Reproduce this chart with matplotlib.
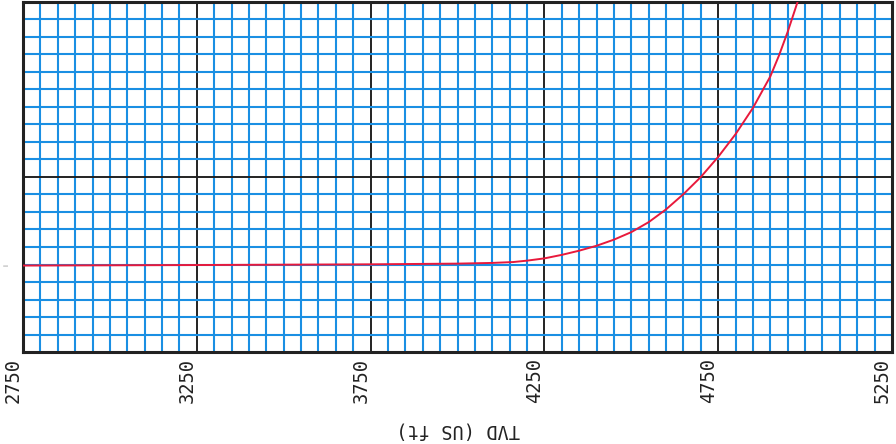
import numpy as np
import matplotlib.pyplot as plt

# red curve (y in grid squares from bottom)
tvd = [2750, 3250, 3750, 4000, 4100, 4160, 4200, 4250, 4300, 4350, 4400, 4450, 4500,
       4550, 4600, 4650, 4700, 4750, 4800, 4850, 4900, 4925, 4950, 4970, 4988]
val = [4.94, 4.97, 5.01, 5.05, 5.09, 5.14, 5.22, 5.35, 5.55, 5.79, 6.07, 6.42, 6.85,
       7.42, 8.15, 9.02, 10.0, 11.15, 12.45, 13.95, 15.75, 16.95, 18.3, 19.5, 20.6]

xticks = [2750, 3250, 3750, 4250, 4750, 5250]
xlabel = "TVD (US ft)"

blue = '#1a8fe3'
ink = '#222222'

fig = plt.figure(figsize=(8.96, 4.44), dpi=100)
ax = fig.add_axes([23/896, 1 - 352/444, (892-23)/896, (352-2)/444])

ax.plot(tvd, val, color='#e8193c', lw=1.4, zorder=3)

ax.set_xlim(2750, 5250)
ax.set_ylim(0, 20)
ax.set_xticks(xticks)
ax.set_xticks(np.arange(2750, 5251, 50), minor=True)
ax.set_yticks([0, 10, 20])
ax.set_yticks(np.arange(0, 21, 1), minor=True)
ax.set_xticklabels([str(t) for t in xticks], rotation=90, ha='right', va='top',
                   fontsize=13.5, color=ink, family='DejaVu Sans Mono')
ax.set_yticklabels([])
ax.tick_params(which='both', length=0)
ax.tick_params(axis='x', pad=4)

ax.set_axisbelow(True)
ax.grid(which='minor', color=blue, lw=1.5)
ax.grid(which='major', color=ink, lw=1.4)
for s in ax.spines.values():
    s.set_linewidth(2.2)
    s.set_color(ink)

# upside-down axis title as in the scan
fig.text(458/896, 1 - 430/444, xlabel, rotation=180, ha='center', va='center',
         fontsize=13.5, color=ink, family='DejaVu Sans Mono')
fig.text(6/896, 1 - 265/444, "i", rotation=90, ha='center', va='center', fontsize=5, color='#888888')

fig.savefig('out.png', dpi=100)
